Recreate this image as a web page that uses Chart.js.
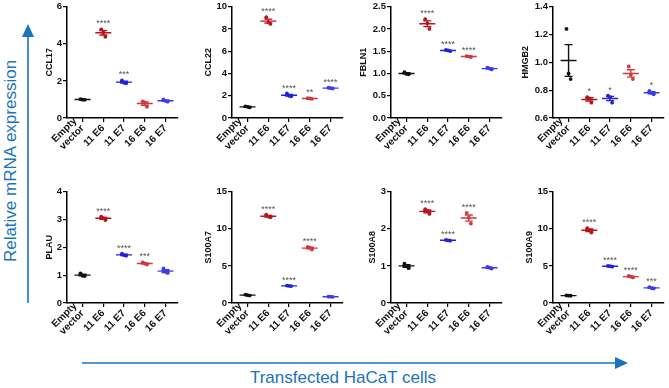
<!DOCTYPE html>
<html>
<head>
<meta charset="utf-8">
<script src="https://cdn.jsdelivr.net/npm/chart.js@4.4.1/dist/chart.umd.min.js"></script>
<style>
  body { margin: 0; background: #fff; width: 669px; height: 388px; overflow: hidden; position: relative; font-family: "Liberation Sans", Arial, sans-serif; }
  canvas { position: absolute; }
  #arrows { position: absolute; left: 0; top: 0; }
  .axis-label { position: absolute; color: #1a73bb; font-size: 17px; white-space: nowrap; transform: translate(-50%, -50%); }
  #ylab { left: 11px; top: 161px; transform: translate(-50%, -50%) rotate(-90deg); }
  #xlab { left: 343px; top: 378px; }
</style>
</head>
<body>
<svg id="arrows" width="669" height="388">
  <line x1="28" y1="303" x2="28" y2="35" stroke="#1a73bb" stroke-width="1.6"/>
  <polygon points="28,24 22,37 34,37" fill="#1a73bb"/>
  <line x1="82" y1="363" x2="616" y2="363" stroke="#1a73bb" stroke-width="1.6"/>
  <polygon points="628,363 615,357 615,369" fill="#1a73bb"/>
</svg>
<div class="axis-label" id="ylab">Relative mRNA expression</div>
<div class="axis-label" id="xlab">Transfected HaCaT cells</div>

<script>
// --- DATA ---
const categories = [['Empty', 'vector'], '11 E6', '11 E7', '16 E6', '16 E7'];
const groupColors = ['#111111', '#b8141c', '#2222dd', '#cf3a3e', '#3b3bf0'];

// 3 replicates per group: Empty vector, 11 E6, 11 E7, 16 E6, 16 E7
const ccl17 = [[1.02, 0.99, 0.98], [4.78, 4.62, 4.38], [2.03, 1.9, 1.87], [0.9, 0.84, 0.6], [1.0, 0.92, 0.88]];
const ccl22 = [[1.05, 1.0, 0.95], [9.05, 8.62, 8.45], [2.2, 2.0, 1.95], [1.78, 1.75, 1.72], [2.72, 2.68, 2.65]];
const fbln1 = [[1.03, 0.99, 0.98], [2.22, 2.13, 2.0], [1.53, 1.52, 1.5], [1.39, 1.38, 1.37], [1.13, 1.11, 1.09]];
const hmgb2 = [[1.24, 0.92, 0.88], [0.75, 0.74, 0.71], [0.76, 0.75, 0.71], [0.97, 0.91, 0.88], [0.795, 0.78, 0.77]];
const plau = [[1.06, 0.98, 0.97], [3.1, 3.05, 2.98], [1.77, 1.72, 1.7], [1.46, 1.42, 1.38], [1.24, 1.12, 1.08]];
const s100a7 = [[1.12, 1.05, 1.0], [11.9, 11.65, 11.55], [2.35, 2.3, 2.28], [7.55, 7.45, 7.2], [0.87, 0.85, 0.83]];
const s100a8 = [[1.06, 1.0, 0.94], [2.53, 2.48, 2.4], [1.7, 1.69, 1.68], [2.43, 2.3, 2.14], [0.97, 0.95, 0.93]];
const s100a9 = [[1.02, 1.0, 0.98], [10.1, 9.8, 9.5], [5.0, 4.95, 4.9], [3.65, 3.55, 3.45], [2.15, 2.0, 1.95]];

const ccl17Stars = ['', '****', '***', '', ''];
const ccl22Stars = ['', '****', '****', '**', '****'];
const fbln1Stars = ['', '****', '****', '****', ''];
const hmgb2Stars = ['', '*', '*', '', '*'];
const plauStars = ['', '****', '****', '***', ''];
const s100a7Stars = ['', '****', '****', '****', ''];
const s100a8Stars = ['', '****', '****', '****', ''];
const s100a9Stars = ['', '****', '****', '****', '***'];

const ccl17Ticks = ['0', '2', '4', '6'];
const ccl22Ticks = ['0', '2', '4', '6', '8', '10'];
const fbln1Ticks = ['0.0', '0.5', '1.0', '1.5', '2.0', '2.5'];
const hmgb2Ticks = ['0.6', '0.8', '1.0', '1.2', '1.4'];
const plauTicks = ['0', '1', '2', '3', '4'];
const s100a7Ticks = ['0', '5', '10', '15'];
const s100a8Ticks = ['0', '1', '2', '3'];
const s100a9Ticks = ['0', '5', '10', '15'];

// --- LAYOUT ---
const colLeft = [40, 195, 350, 510];
const colAxis = [67, 232, 391, 553];
const rowTop = [0, 185];
const plotWidth = 112;
const jitter = [-0.1, 0, 0.1];
const FONT = '"Liberation Sans", Arial, sans-serif';

const panels = [
  { name: 'CCL17', values: ccl17, stars: ccl17Stars, ticks: ccl17Ticks, col: 0, row: 0, titlePad: 4 },
  { name: 'CCL22', values: ccl22, stars: ccl22Stars, ticks: ccl22Ticks, col: 1, row: 0, titlePad: 8.5 },
  { name: 'FBLN1', values: fbln1, stars: fbln1Stars, ticks: fbln1Ticks, col: 2, row: 0, titlePad: 8.5 },
  { name: 'HMGB2', values: hmgb2, stars: hmgb2Stars, ticks: hmgb2Ticks, col: 3, row: 0, titlePad: 10.5 },
  { name: 'PLAU', values: plau, stars: plauStars, ticks: plauTicks, col: 0, row: 1, titlePad: 4 },
  { name: 'S100A7', values: s100a7, stars: s100a7Stars, ticks: s100a7Ticks, col: 1, row: 1, titlePad: 8.5 },
  { name: 'S100A8', values: s100a8, stars: s100a8Stars, ticks: s100a8Ticks, col: 2, row: 1, titlePad: 17 },
  { name: 'S100A9', values: s100a9, stars: s100a9Stars, ticks: s100a9Ticks, col: 3, row: 1, titlePad: 14.5 }
];

// mean line + SEM bars + significance stars
function meanSemPlugin(values, stars) {
  return {
    id: 'meanSem',
    afterDatasetsDraw(chart) {
      const ctx = chart.ctx;
      const xs = chart.scales.x, ys = chart.scales.y;
      values.forEach((vals, i) => {
        const n = vals.length;
        const mean = vals.reduce((a, b) => a + b, 0) / n;
        const sd = Math.sqrt(vals.reduce((a, b) => a + (b - mean) ** 2, 0) / (n - 1));
        const sem = sd / Math.sqrt(n);
        const px = xs.getPixelForValue(i);
        const yMean = ys.getPixelForValue(mean);
        const yHi = ys.getPixelForValue(mean + sem);
        const yLo = ys.getPixelForValue(mean - sem);
        ctx.save();
        ctx.strokeStyle = groupColors[i];
        ctx.lineWidth = 1.4;
        ctx.beginPath();
        ctx.moveTo(px - 8, yMean); ctx.lineTo(px + 8, yMean);
        ctx.moveTo(px, yHi); ctx.lineTo(px, yLo);
        ctx.moveTo(px - 4, yHi); ctx.lineTo(px + 4, yHi);
        ctx.moveTo(px - 4, yLo); ctx.lineTo(px + 4, yLo);
        ctx.stroke();
        if (stars[i]) {
          const top = Math.min(yHi, ys.getPixelForValue(Math.max(...vals)));
          ctx.fillStyle = '#555';
          ctx.font = '9px ' + FONT;
          ctx.textAlign = 'center';
          ctx.textBaseline = 'alphabetic';
          ctx.fillText(stars[i], px, top - 3);
        }
        ctx.restore();
      });
    }
  };
}

// two-line "Empty vector" label: end the last line at the tick, not the first one
const stackLabelPlugin = {
  id: 'stackLabel',
  beforeDraw(chart) {
    const items = chart.scales.x.getLabelItems();
    items.forEach(it => {
      if (Array.isArray(it.label) && !it._moved) {
        it.textOffset -= it.font.lineHeight * (it.label.length - 1);
        it._moved = true;
      }
    });
  }
};

panels.forEach(p => {
  const left = colLeft[p.col];
  const axisW = colAxis[p.col] - left;
  const cv = document.createElement('canvas');
  cv.width = axisW + plotWidth + 3;
  cv.height = 170;
  cv.style.left = left + 'px';
  cv.style.top = rowTop[p.row] + 'px';
  document.body.appendChild(cv);

  const yVals = p.ticks.map(Number);

  new Chart(cv, {
    type: 'scatter',
    data: {
      datasets: p.values.map((vals, i) => ({
        data: vals.map((v, j) => ({ x: i + jitter[j], y: v })),
        backgroundColor: groupColors[i],
        borderColor: groupColors[i],
        pointRadius: 1.9,
        borderWidth: 0,
        clip: false
      }))
    },
    options: {
      responsive: false,
      devicePixelRatio: 1,
      animation: false,
      layout: { padding: { top: 6, left: 0, right: 3, bottom: 0 } },
      plugins: { legend: { display: false }, tooltip: { enabled: false } },
      scales: {
        x: {
          type: 'linear',
          min: -0.75,
          max: 4.6,
          afterBuildTicks: s => { s.ticks = categories.map((c, i) => ({ value: i })); },
          afterFit: s => { s.height = 52; },
          grid: { drawOnChartArea: false, drawTicks: true, tickLength: 4, color: '#000', lineWidth: 1.2 },
          border: { display: true, color: '#000', width: 1.5 },
          ticks: {
            autoSkip: false,
            minRotation: 45,
            maxRotation: 45,
            padding: 1,
            color: '#111',
            font: { family: FONT, size: 10, weight: 'bold', lineHeight: 1.05 },
            callback: (v, i) => categories[i]
          }
        },
        y: {
          min: yVals[0],
          max: yVals[yVals.length - 1],
          afterBuildTicks: s => { s.ticks = yVals.map(v => ({ value: v })); },
          afterFit: s => { s.width = axisW; },
          grid: { drawOnChartArea: false, drawTicks: true, tickLength: 4, color: '#000', lineWidth: 1.2 },
          border: { display: true, color: '#000', width: 1.5 },
          ticks: {
            padding: 1,
            color: '#111',
            font: { family: FONT, size: 9.5, weight: 'bold' },
            callback: (v, i) => p.ticks[i]
          },
          title: {
            display: true,
            text: p.name,
            color: '#111',
            padding: { top: p.titlePad, bottom: 0 },
            font: { family: FONT, size: 9, weight: 'bold' }
          }
        }
      }
    },
    plugins: [stackLabelPlugin, meanSemPlugin(p.values, p.stars)]
  });
});
</script>
</body>
</html>
